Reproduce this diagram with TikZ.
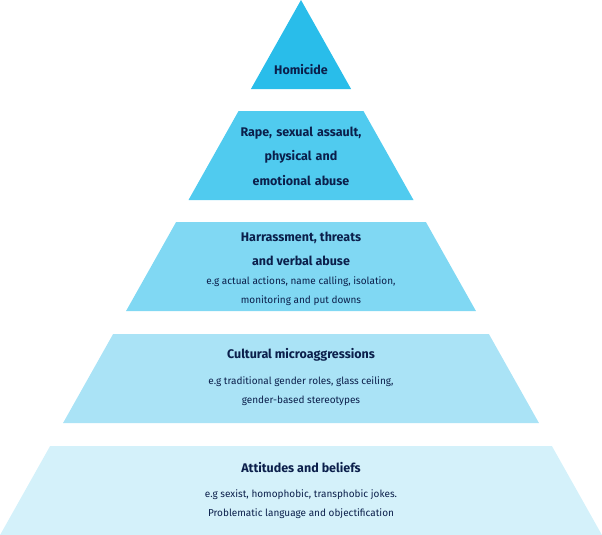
\documentclass[tikz,border=0pt]{standalone}
\usepackage{fontspec}
\setmainfont{Fira Sans}
\usetikzlibrary{positioning}
\definecolor{tierA}{HTML}{29BDEA}
\definecolor{tierB}{HTML}{50CBEF}
\definecolor{tierC}{HTML}{80D8F3}
\definecolor{tierD}{HTML}{AAE3F6}
\definecolor{tierE}{HTML}{D4F1FA}
\definecolor{navy}{HTML}{0B1F4B}
\tikzset{
  head/.style={text=navy, font=\fontsize{12.5}{15}\selectfont\bfseries, align=center, inner sep=0pt},
  note/.style={text=navy, font=\fontsize{10}{18.5}\selectfont, align=center, inner sep=0pt}
}
\begin{document}
\begin{tikzpicture}[x=1pt,y=-1pt]
        \useasboundingbox (0,0) rectangle (602,535);
        % tiers: top, bottom, colour (half width = 0.5625 * y)
        \foreach \t/\b/\c in {0/89/tierA, 111/200/tierB, 222/311/tierC, 334/423/tierD, 446/535/tierE}
            \fill[\c] (301-0.5625*\t,\t) -- (301+0.5625*\t,\t) -- (301+0.5625*\b,\b) -- (301-0.5625*\b,\b) -- cycle;

        \node[head] (H1) at (301,70) {Homicide};
        \node[head, text width=200pt, font=\fontsize{12.5}{24.5}\selectfont\bfseries] (H2) at (301,156) {Rape, sexual assault,\\ physical and\\ emotional abuse};
        \node[head, font=\fontsize{12.5}{24}\selectfont\bfseries] (H3) at (301,249) {Harrassment, threats\\ and verbal abuse};
        \node[note] (N3) at (301,291) {e.g actual actions, name calling, isolation,\\ monitoring and put downs};
        \node[head] (H4) at (301,355) {Cultural microaggressions};
        \node[note] (N4) at (301,391) {e.g traditional gender roles, glass ceiling,\\ gender-based stereotypes};
        \node[head] (H5) at (301,468) {Attitudes and beliefs};
        \node[note] (N5) at (301,504) {e.g sexist, homophobic, transphobic jokes.\\ Problematic language and objectification};
    \end{tikzpicture}
\end{document}
